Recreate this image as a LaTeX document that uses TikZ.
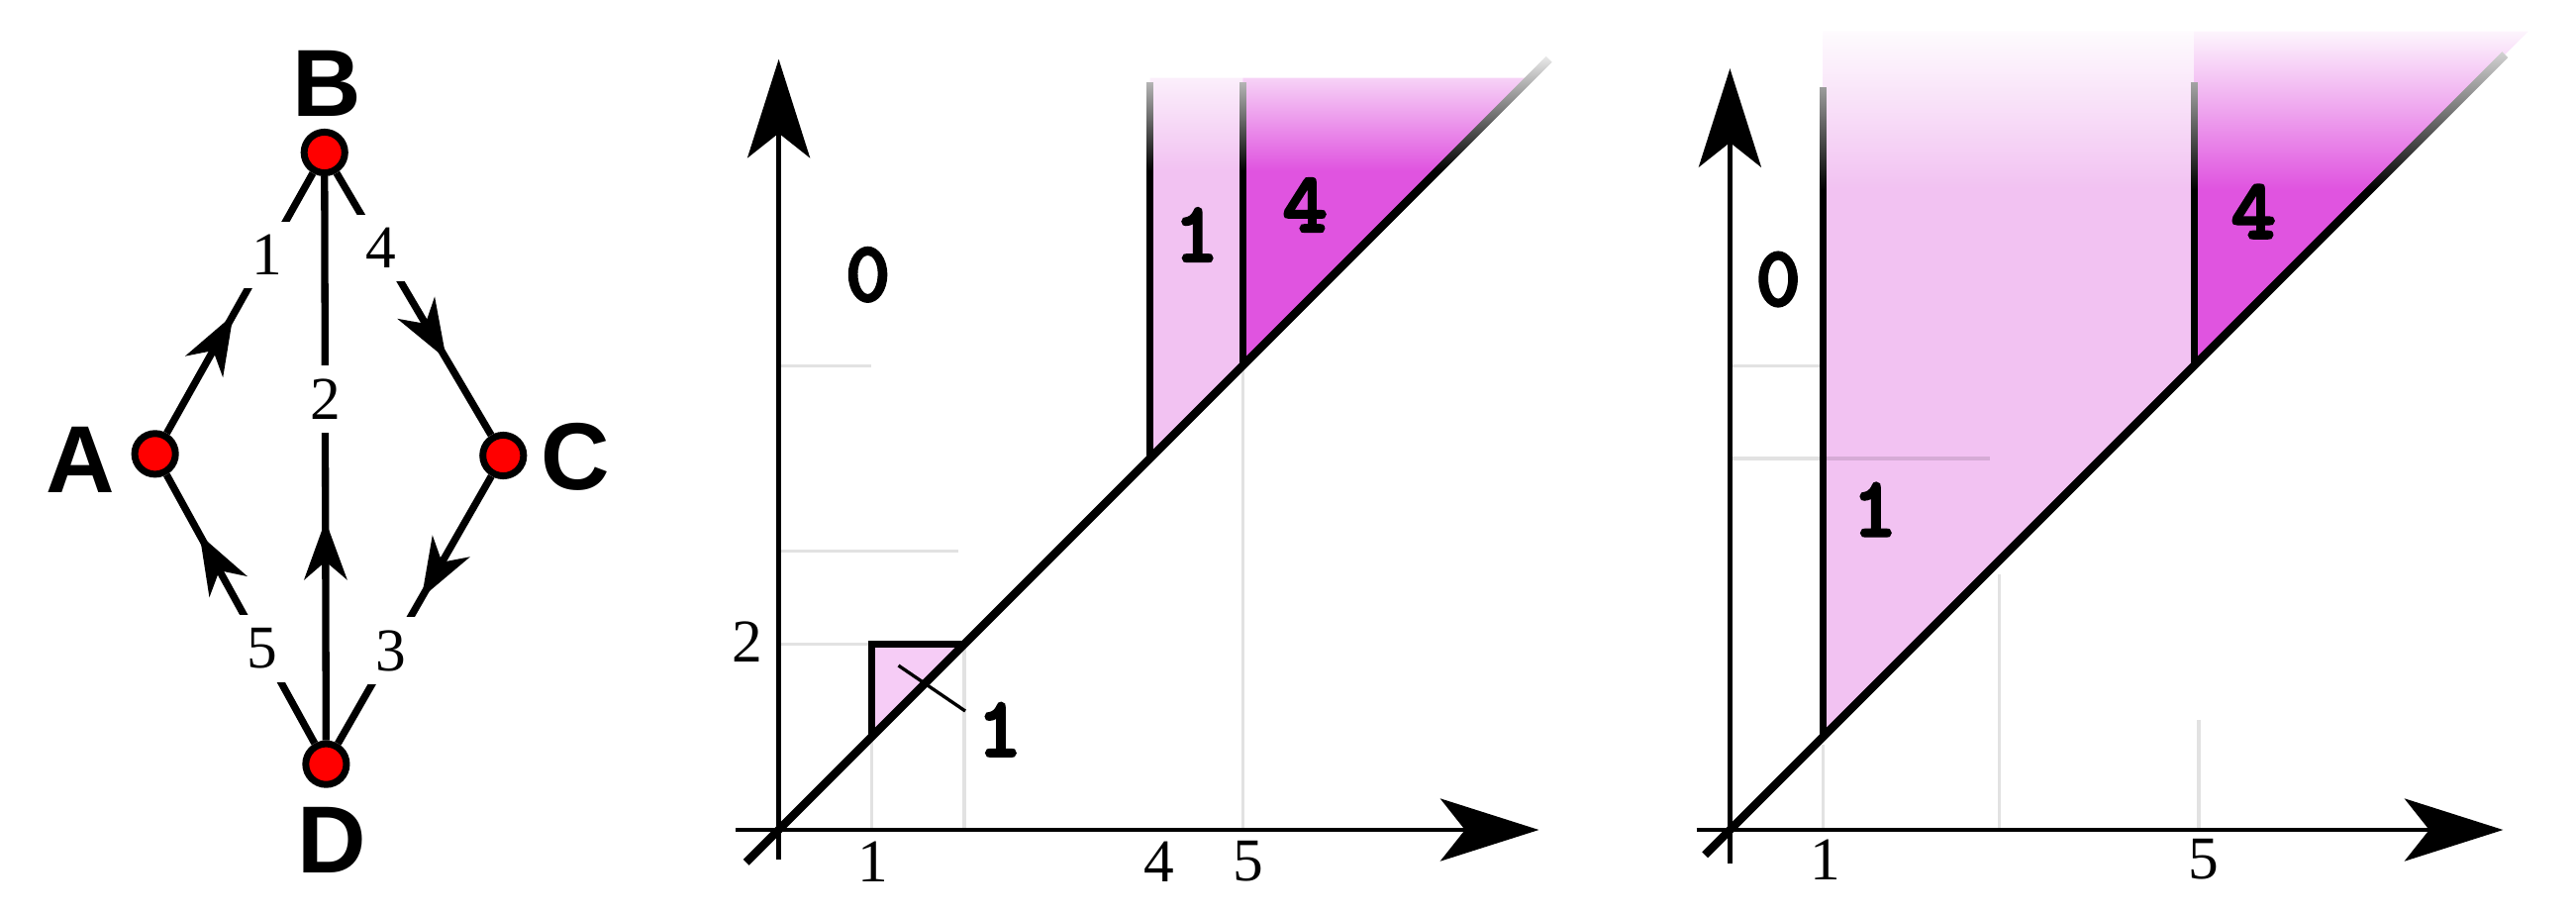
\documentclass[tikz,border=0pt]{standalone}
\usepackage{fontspec}
\setmainfont{Liberation Serif}
\newfontfamily\vertexfont{Liberation Sans}
\newfontfamily\regionfont{lmmonolt10-bold}[Extension=.otf, FakeBold=3]
\usetikzlibrary{arrows.meta,decorations.markings,fadings}

\tikzfading[name=fadetop, top color=transparent!0, middle color=transparent!45, bottom color=transparent!100]

\definecolor{lightpink}{RGB}{242,194,242}
\definecolor{palepink}{RGB}{246,204,246}
\definecolor{orchid}{RGB}{224,84,224}
\definecolor{gridgray}{RGB}{226,226,226}

\tikzset{
  vertex/.style={circle, draw, fill=red, line width=2.1pt, minimum size=12.4pt, inner sep=0pt},
  vname/.style={inner sep=0pt, font=\vertexfont\bfseries\fontsize{29}{30}\selectfont},
  link/.style={line width=2.2pt},
  elabel/.style={fill=white, inner sep=4pt, font=\fontsize{18.5}{20}\selectfont},
  arrowat/.style={postaction={decorate}, decoration={markings, mark=at position #1 with {\arrow{Stealth[length=18pt,width=13pt,inset=5.5pt]}}}},
  plotaxis/.style={line width=1.4pt, -{Stealth[length=30pt,width=19pt,inset=7.5pt]}},
  ticklabel/.style={inner sep=0pt, font=\fontsize{18.5}{20}\selectfont},
  region/.style={inner sep=0pt, font=\regionfont\fontsize{26}{28}\selectfont},
  gridline/.style={gridgray, line width=1pt},
  bandline/.style={line width=2.2pt},
  diag/.style={line width=2.5pt},
}

\begin{document}
\begin{tikzpicture}[x=0.5pt,y=0.5pt,yscale=-1,xscale=1]
\useasboundingbox (0,0) rectangle (1568,557);

%% graph with vertices A, B, C, D
\node[vertex] (B) at (197.5,92.8) {};
\node[vertex] (A) at (94.4,276.2) {};
\node[vertex] (C) at (306.3,277.2) {};
\node[vertex] (D) at (198.5,465) {};
% Text Node
\node[vname] (labB) at (198.9,50.6) {B};
\node[vname] (labA) at (49,280) {A};
\node[vname] (labC) at (350.2,278.1) {C};
\node[vname] (labD) at (201.9,511) {D};
% edges
\draw[link, arrowat=0.456] (A) -- node[elabel, pos=0.687] (e1) {1} (B);
\draw[link, arrowat=0.39] (D) -- node[elabel, pos=0.605] (e2) {2} (B);
\draw[link, arrowat=0.711] (B) -- node[elabel, pos=0.286] (e4) {4} (C);
\draw[link, arrowat=0.456] (C) -- node[elabel, pos=0.654] (e3) {3} (D);
\draw[link, arrowat=0.778] (D) -- node[elabel, pos=0.353] (e5) {5} (A);

%% middle plot
\begin{scope}[shift={(474,505)}, x=28.25pt, y=-28.25pt]
% grid remnants
\draw[gridline] (0,2) -- (1,2);
\draw[gridline] (0,3) -- (1.93,3);
\draw[gridline] (0,5) -- (1,5);
\draw[gridline] (1,0) -- (1,1);
\draw[gridline] (2,0) -- (2,2);
\draw[gridline] (5,0) -- (5,5);
% regions
\fill[palepink] (1,1) -- (1,2) -- (2,2) -- cycle;
\fill[lightpink] (4,4) -- (4,8.1) -- (5,8.1) -- (5,5) -- cycle;
\fill[orchid] (5,5) -- (5,8.1) -- (8.1,8.1) -- cycle;
\draw[bandline] (1,1) -- (1,2) -- (2,2);
\draw[bandline] (4,4) -- (4,8.05);
\draw[bandline] (5,5) -- (5,8.05);
\draw[diag] (-0.35,-0.35) -- (8.3,8.3);
\fill[white, path fading=fadetop] (3.85,7.1) rectangle (8.6,8.45);
% axes
\draw[plotaxis] (-0.46,0) -- (8.19,0);
\draw[plotaxis] (0,-0.32) -- (0,8.3);
\coordinate (m1) at (1.29,1.77);
\coordinate (m2) at (2.01,1.28);
\draw[line width=1pt] (m1) -- (m2);
% Text Node
\node[region] (r0) at (0.96,5.98) {0};
\node[region] (r1) at (4.5,6.41) {1};
\node[region] (r4) at (5.67,6.73) {4};
\node[region] (rt) at (2.38,1.08) {1};
\node[ticklabel] (tx1) at (1.02,-0.34) {1};
\node[ticklabel] (tx4) at (4.1,-0.34) {4};
\node[ticklabel] (tx5) at (5.06,-0.34) {5};
\node[ticklabel] (ty2) at (-0.34,2.03) {2};
\end{scope}

%% right plot
\begin{scope}[shift={(1053,505)}, x=28.25pt, y=-28.25pt]
% grid remnants
\draw[gridline] (0,5) -- (1,5);
\draw[gridline] (1,0) -- (1,0.92);
\draw[gridline] (2.9,0) -- (2.9,2.75);
\draw[gridline] (5.05,0) -- (5.05,1.18);
% regions
\fill[lightpink] (1,1) -- (1,8.6) -- (5,8.6) -- (5,5) -- cycle;
\fill[orchid] (5,5) -- (5,8.6) -- (8.6,8.6) -- cycle;
\draw[gridline, blend mode=multiply] (0,4) -- (2.8,4);
\draw[bandline] (1,1) -- (1,8);
\draw[bandline] (5,5) -- (5,8.05);
\draw[diag] (-0.27,-0.27) -- (8.35,8.35);
\fill[white, path fading=fadetop] (0.85,6.9) rectangle (8.8,8.7);
% axes
\draw[plotaxis] (-0.36,0) -- (8.33,0);
\draw[plotaxis] (0,-0.36) -- (0,8.2);
% Text Node
\node[region] (s0) at (0.52,5.93) {0};
\node[region] (s1) at (1.56,3.45) {1};
\node[region] (s4) at (5.64,6.66) {4};
\node[ticklabel] (ux1) at (1.03,-0.32) {1};
\node[ticklabel] (ux5) at (5.1,-0.32) {5};
\end{scope}
\end{tikzpicture}
\end{document}
